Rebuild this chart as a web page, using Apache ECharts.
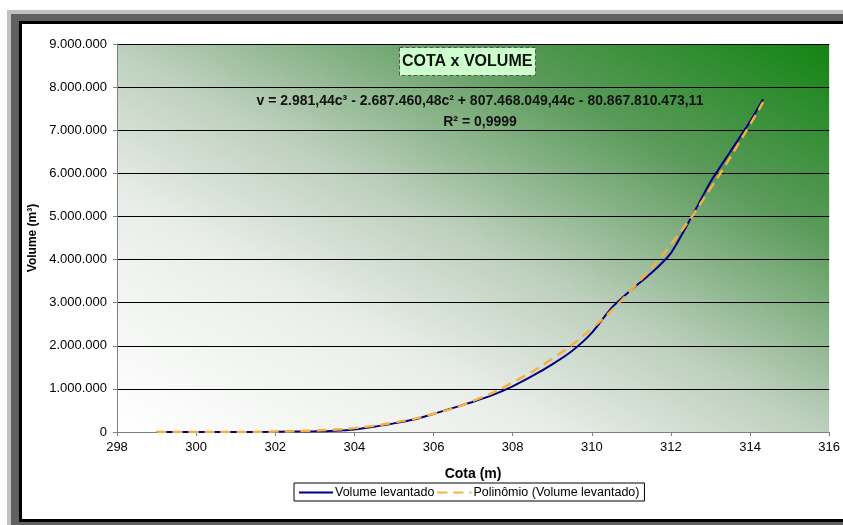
<!DOCTYPE html>
<html><head><meta charset="utf-8">
<script src="https://cdn.jsdelivr.net/npm/echarts@6/dist/echarts.min.js"></script>
<style>
html,body{margin:0;padding:0;background:#fff;width:843px;height:525px;overflow:hidden}
.f{position:absolute}
#f1{left:7px;top:10px;width:836px;height:515px;background:#c0c0c0}
#f2{left:11px;top:14px;width:832px;height:511px;background:#606060}
#f3{left:19px;top:21px;width:824px;height:501px;background:#000}
#f4{left:22px;top:24px;width:821px;height:495px;background:#fff}
#chart{position:absolute;left:0;top:0;width:843px;height:525px}
</style></head>
<body>
<div class="f" id="f1"></div><div class="f" id="f2"></div><div class="f" id="f3"></div><div class="f" id="f4"></div>
<div id="chart"></div>
<script>
// Data
const cota = [299, 300, 301, 302, 303, 303.5, 304, 304.5, 305, 305.5, 306, 306.5, 307, 307.5, 308, 308.5, 309, 309.5, 310, 310.5, 311, 311.5, 312, 312.5, 313, 313.5, 314, 314.33];
const volume = [0, 0, 0, 5000, 15000, 30000, 60000, 120000, 200000, 290000, 420000, 560000, 700000, 860000, 1060000, 1300000, 1570000, 1880000, 2300000, 2880000, 3300000, 3680000, 4150000, 4950000, 5800000, 6500000, 7200000, 7720000];
const cotaTrend = [299, 300, 301, 302, 303, 304, 305, 306, 307, 308, 309, 310, 311, 312, 313, 314, 314.33];
const volumeTrend = [0, 0, 0, 10000, 35000, 90000, 220000, 420000, 720000, 1150000, 1700000, 2400000, 3300000, 4350000, 5650000, 7130000, 7650000];
const xTicks = {min: 298, max: 316, interval: 2};
const yTicks = {min: 0, max: 9000000, interval: 1000000};
const seriesNames = ['Volume levantado', 'Polinômio (Volume levantado)'];
const chartTitle = 'COTA x VOLUME';
const equation = 'v = 2.981,44c³ - 2.687.460,48c² + 807.468.049,44c - 80.867.810.473,11';
const r2 = 'R² = 0,9999';

function fmt(v){ return String(Math.round(v)).replace(/\B(?=(\d{3})+(?!\d))/g, '.'); }

const chart = echarts.init(document.getElementById('chart'), null, {renderer:'canvas'});
const FONT = '"Liberation Sans", Arial, sans-serif';
// plot area: left 117, top 44, right 831, bottom 432
const grad = new echarts.graphic.LinearGradient(117, 432, 442.6, -167, [
  {offset: 0, color: '#ffffff'},
  {offset: 0.3, color: '#eaeeea'},
  {offset: 0.5, color: '#bccfbc'},
  {offset: 0.75, color: '#5a9a5a'},
  {offset: 1, color: '#128412'}
], true);
chart.setOption({
  backgroundColor: 'transparent',
  animation: false,
  textStyle: {fontFamily: FONT},
  title: {
    text: chartTitle, left: 399, top: 47,
    backgroundColor: '#ccffcc', borderColor: '#555', borderWidth: 1, borderType: 'dashed',
    padding: [7, 3, 6, 3],
    textStyle: {fontSize: 16, fontWeight: 'bold', color: '#111', fontFamily: FONT}
  },
  grid: {
    left: 117, top: 44, right: 12, bottom: 93, show: true, borderWidth: 0,
    backgroundColor: grad
  },
  legend: {
    left: 294, top: 483, orient: 'horizontal',
    backgroundColor: '#fff', borderColor: '#000', borderWidth: 1,
    padding: [3, 5, 2, 4], itemGap: 2, itemWidth: 34, itemHeight: 12,
    itemStyle: {opacity: 0},
    textStyle: {fontSize: 12.5, color: '#000', fontFamily: FONT, padding: [0, 0, 0, -3]},
    data: seriesNames
  },
  xAxis: {
    type: 'value', min: xTicks.min, max: xTicks.max, interval: xTicks.interval,
    name: 'Cota (m)', nameLocation: 'middle', nameGap: 35,
    nameTextStyle: {fontSize: 14, fontWeight: 'bold', color: '#000'},
    axisLine: {show: true, lineStyle: {color: '#808080', width: 1}},
    axisTick: {show: true, length: 4, lineStyle: {color: '#808080'}},
    axisLabel: {fontSize: 13, color: '#000', margin: 9},
    splitLine: {show: false}
  },
  yAxis: {
    type: 'value', min: yTicks.min, max: yTicks.max, interval: yTicks.interval,
    name: 'Volume (m³)', nameLocation: 'middle', nameGap: 73, nameRotate: 90,
    nameTextStyle: {fontSize: 12, fontWeight: 'bold', color: '#000'},
    axisLine: {show: true, lineStyle: {color: '#808080', width: 1}},
    axisTick: {show: true, length: 4, lineStyle: {color: '#808080'}},
    axisLabel: {fontSize: 13, color: '#000', margin: 10, formatter: fmt},
    splitLine: {show: true, lineStyle: {color: '#000', width: 1}}
  },
  graphic: [
    {type: 'text', x: 480, y: 94, z: 100,
     style: {text: equation, font: 'bold 14px ' + FONT, fill: '#111', textAlign: 'center'}},
    {type: 'text', x: 480, y: 115, z: 100,
     style: {text: r2, font: 'bold 14px ' + FONT, fill: '#111', textAlign: 'center'}}
  ],
  series: [
    {
      name: seriesNames[0], type: 'line', symbol: 'none', smooth: 0.2,
      data: cota.map((c, i) => [c, volume[i]]),
      lineStyle: {color: '#000080', width: 2}, itemStyle: {color: '#000080'}, z: 2
    },
    {
      name: seriesNames[1], type: 'line', symbol: 'none', smooth: true,
      data: cotaTrend.map((c, i) => [c, volumeTrend[i]]),
      lineStyle: {color: '#f5b041', width: 2.5, type: [10, 6]}, itemStyle: {color: '#f5b041'}, z: 3
    }
  ]
});
</script>
</body></html>
